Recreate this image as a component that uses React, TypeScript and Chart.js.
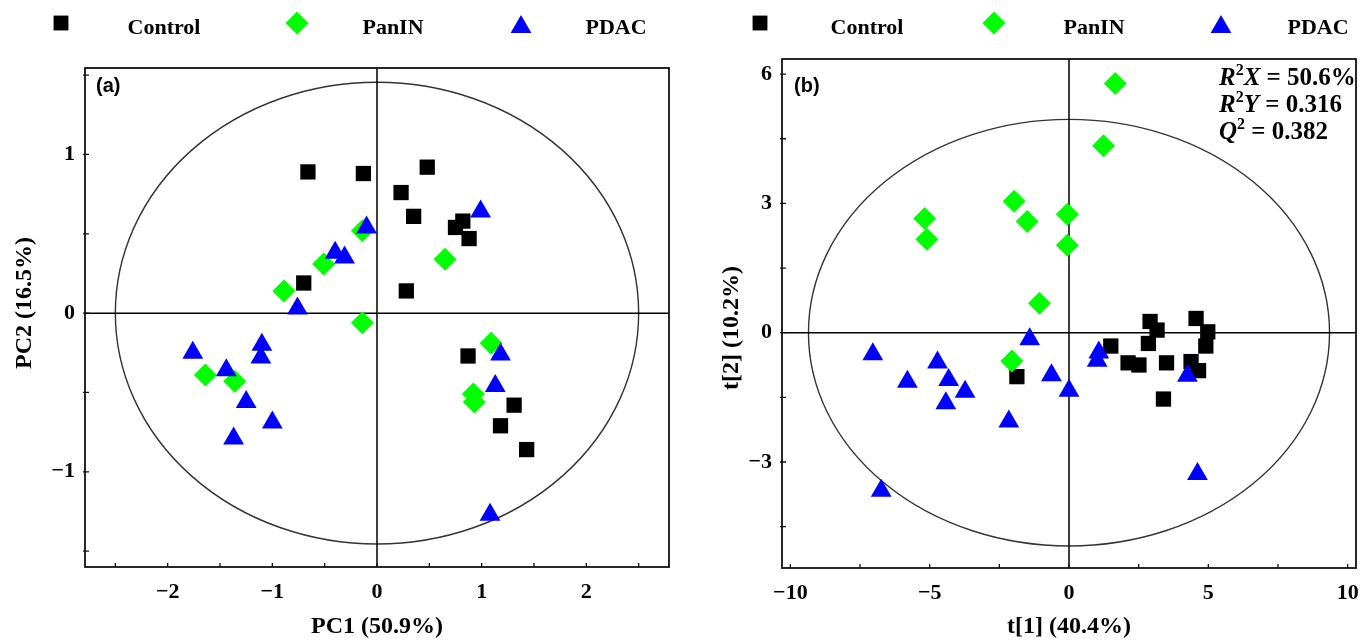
import React, { useEffect, useRef } from 'react';
import { Chart, registerables } from 'chart.js';

Chart.register(...registerables);

type Pt = [number, number];

// ---------- data ----------
const seriesNames = ['Control', 'PanIN', 'PDAC'];
const seriesColors = ['#000000', '#00FF00', '#0000FF'];
const seriesShapes = ['rect', 'rectRot', 'triangle'];
const seriesRadius = [10.8, 11.5, 12];

// (a) PCA scores: PC1 vs PC2
const pcaControl: Pt[] = [
  [-0.66, 0.89], [-0.13, 0.88], [0.23, 0.76], [0.48, 0.92], [0.35, 0.61],
  [0.75, 0.54], [0.82, 0.58], [0.88, 0.47], [-0.7, 0.19], [0.28, 0.14],
  [0.87, -0.27], [1.31, -0.58], [1.18, -0.71], [1.43, -0.86],
];
const pcaPanIN: Pt[] = [
  [-0.14, 0.52], [-0.51, 0.31], [-0.89, 0.14], [-0.14, -0.06], [0.65, 0.34],
  [1.09, -0.19], [0.92, -0.51], [0.93, -0.56], [-1.64, -0.39], [-1.36, -0.43],
];
const pcaPDAC: Pt[] = [
  [-0.1, 0.54], [-0.4, 0.38], [-0.31, 0.35], [-0.76, 0.03], [0.99, 0.64],
  [-1.76, -0.25], [-1.1, -0.2], [-1.11, -0.28], [-1.44, -0.36], [-1.25, -0.56],
  [-1.0, -0.69], [-1.37, -0.79], [1.18, -0.26], [1.13, -0.46], [1.08, -1.27],
];

// (b) PLS-DA scores: t[1] vs t[2]
const plsControl: Pt[] = [
  [-1.87, -1.02], [1.5, -0.31], [2.12, -0.7], [2.51, -0.75], [2.85, -0.25],
  [2.91, 0.26], [3.16, 0.06], [3.5, -0.7], [3.39, -1.54], [4.56, 0.33],
  [4.98, 0.02], [4.91, -0.31], [4.38, -0.67], [4.65, -0.88],
];
const plsPanIN: Pt[] = [
  [1.66, 5.78], [1.24, 4.34], [-1.97, 3.05], [-1.5, 2.58], [-5.18, 2.65],
  [-5.1, 2.17], [-0.06, 2.75], [-0.06, 2.03], [-1.06, 0.68], [-2.05, -0.66],
];
const plsPDAC: Pt[] = [
  [-1.41, -0.15], [-7.04, -0.5], [-5.8, -1.14], [-4.72, -0.69], [-4.32, -1.1],
  [-3.73, -1.37], [-4.42, -1.64], [-2.16, -2.06], [-0.63, -0.99], [0.0, -1.35],
  [1.07, -0.46], [1.01, -0.65], [4.25, -1.0], [4.61, -3.28], [-6.74, -3.67],
];

// tick labels
const pcaXLabels = [-2, -1, 0, 1, 2];
const pcaYLabels = [-1, 0, 1];
const plsXLabels = [-10, -5, 0, 5, 10];
const plsYLabels = [-3, 0, 3, 6];

// model statistics for (b)
const plsStatNames = [['R', '2', 'X'], ['R', '2', 'Y'], ['Q', '2', '']];
const plsStatValues = ['50.6%', '0.316', '0.382'];

// ---------- layout / style ----------
const W = 684;
const H = 641;
const SERIF = '"Liberation Serif", "Times New Roman", serif';
const SANS = '"Liberation Sans", Arial, sans-serif';

interface Panel {
  tag: string;
  xTitle: string;
  yTitle: string;
  series: Pt[][];
  xRange: [number, number];
  yRange: [number, number];
  xStep: number;
  yStep: number;
  xLabels: number[];
  yLabels: number[];
  ellipse: [number, number];
  area: { left: number; right: number; top: number; bottom: number };
  yTitlePos: [number, number];
  tagX: number;
  legendMarkX: number[];
  legendTextX: number[];
  stats: boolean;
}

const panels: Panel[] = [
  {
    tag: '(a)',
    xTitle: 'PC1 (50.9%)',
    yTitle: 'PC2 (16.5%)',
    series: [pcaControl, pcaPanIN, pcaPDAC],
    xRange: [-2.79, 2.79],
    yRange: [-1.6, 1.545],
    xStep: 0.5,
    yStep: 0.5,
    xLabels: pcaXLabels,
    yLabels: pcaYLabels,
    ellipse: [2.5, 1.455],
    area: { left: 85, right: 669, top: 68, bottom: 567 },
    yTitlePos: [25, 303],
    tagX: 96,
    legendMarkX: [61, 297, 521],
    legendTextX: [164, 393, 616],
    stats: false,
  },
  {
    tag: '(b)',
    xTitle: 't[1] (40.4%)',
    yTitle: 't[2] (10.2%)',
    series: [plsControl, plsPanIN, plsPDAC],
    xRange: [-10.3, 10.3],
    yRange: [-5.46, 6.35],
    xStep: 2.5,
    yStep: 1.5,
    xLabels: plsXLabels,
    yLabels: plsYLabels,
    ellipse: [9.35, 4.95],
    area: { left: 98, right: 680, top: 59, bottom: 568 },
    yTitlePos: [48, 328],
    tagX: 110,
    legendMarkX: [76, 310, 537],
    legendTextX: [183, 410, 634],
    stats: true,
  },
];

const fmt = (v: number) => (v < 0 ? '\u2212' + Math.abs(v) : String(v));
const isLabel = (v: number, list: number[]) => list.some((l) => Math.abs(l - v) < 1e-6);

function drawMarker(ctx: CanvasRenderingContext2D, shape: string, x: number, y: number, r: number) {
  ctx.beginPath();
  if (shape === 'rect') {
    const s = Math.SQRT1_2 * r;
    ctx.rect(x - s, y - s, 2 * s, 2 * s);
  } else if (shape === 'rectRot') {
    ctx.moveTo(x - r, y);
    ctx.lineTo(x, y - r);
    ctx.lineTo(x + r, y);
    ctx.lineTo(x, y + r);
    ctx.closePath();
  } else {
    ctx.moveTo(x, y - r);
    ctx.lineTo(x + r * 0.866, y + r / 2);
    ctx.lineTo(x - r * 0.866, y + r / 2);
    ctx.closePath();
  }
  ctx.fill();
}

function makeDecor(p: Panel) {
  return {
    id: 'decor',
    beforeDatasetsDraw(chart: any) {
      const { ctx, chartArea: a } = chart;
      const x = chart.scales.x;
      const y = chart.scales.y;
      const cx = x.getPixelForValue(0);
      const cy = y.getPixelForValue(0);
      const rx = Math.abs(x.getPixelForValue(p.ellipse[0]) - cx);
      const ry = Math.abs(y.getPixelForValue(p.ellipse[1]) - cy);
      ctx.save();
      ctx.strokeStyle = '#333';
      ctx.lineWidth = 1.4;
      ctx.beginPath();
      ctx.ellipse(cx, cy, rx, ry, 0, 0, Math.PI * 2);
      ctx.stroke();
      ctx.strokeStyle = '#000';
      ctx.lineWidth = 1.5;
      ctx.beginPath();
      ctx.moveTo(cx, a.top);
      ctx.lineTo(cx, a.bottom);
      ctx.moveTo(a.left, cy);
      ctx.lineTo(a.right, cy);
      ctx.stroke();
      ctx.restore();
    },
    afterDraw(chart: any) {
      const { ctx, chartArea: a } = chart;
      const x = chart.scales.x;
      const y = chart.scales.y;
      ctx.save();
      // frame
      ctx.strokeStyle = '#111';
      ctx.lineWidth = 1.8;
      ctx.strokeRect(a.left, a.top, a.right - a.left, a.bottom - a.top);
      // minor/major tick marks
      ctx.lineWidth = 1.3;
      ctx.beginPath();
      x.ticks.forEach((t: any) => {
        const px = x.getPixelForValue(t.value);
        ctx.moveTo(px, a.bottom);
        ctx.lineTo(px, a.bottom - 4);
      });
      y.ticks.forEach((t: any) => {
        const py = y.getPixelForValue(t.value);
        ctx.moveTo(a.left - 2, py);
        ctx.lineTo(a.left + 4, py);
      });
      ctx.stroke();
      // y title
      ctx.fillStyle = '#000';
      ctx.font = `bold 24px ${SERIF}`;
      ctx.textAlign = 'center';
      ctx.textBaseline = 'middle';
      ctx.translate(p.yTitlePos[0], p.yTitlePos[1]);
      ctx.rotate(-Math.PI / 2);
      ctx.fillText(p.yTitle, 0, 0);
      ctx.setTransform(1, 0, 0, 1, 0, 0);
      // legend
      seriesNames.forEach((name, i) => {
        ctx.fillStyle = seriesColors[i];
        const r = i === 0 ? 10.5 : i === 1 ? 11.5 : 12;
        drawMarker(ctx, seriesShapes[i], p.legendMarkX[i], i === 2 ? 27 : 23, r);
        ctx.fillStyle = '#000';
        ctx.font = `bold 22px ${SERIF}`;
        ctx.textAlign = 'center';
        ctx.textBaseline = 'middle';
        ctx.fillText(name, p.legendTextX[i], 28);
      });
      // panel tag
      ctx.font = `bold 20px ${SANS}`;
      ctx.textAlign = 'left';
      ctx.fillText(p.tag, p.tagX, 86);
      // statistics
      if (p.stats) {
        const rows = [79, 106, 133];
        plsStatNames.forEach((parts, i) => {
          let cxp = 535;
          const yy = rows[i];
          ctx.textBaseline = 'middle';
          ctx.font = `italic bold 25px ${SERIF}`;
          ctx.fillText(parts[0], cxp, yy);
          cxp += ctx.measureText(parts[0]).width;
          ctx.font = `bold 16px ${SERIF}`;
          ctx.fillText(parts[1], cxp, yy - 8);
          cxp += ctx.measureText(parts[1]).width;
          ctx.font = `italic bold 25px ${SERIF}`;
          if (parts[2]) {
            ctx.fillText(parts[2], cxp, yy);
            cxp += ctx.measureText(parts[2]).width;
          }
          ctx.font = `bold 25px ${SERIF}`;
          ctx.fillText(' = ' + plsStatValues[i], cxp, yy);
        });
      }
      ctx.restore();
    },
  };
}

function makeConfig(p: Panel): any {
  const tickFont = { family: SERIF, size: 22, weight: 'bold' as const };
  return {
    type: 'scatter',
    data: {
      datasets: p.series.map((pts, i) => ({
        label: seriesNames[i],
        data: pts.map(([vx, vy]) => ({ x: vx, y: vy })),
        pointStyle: seriesShapes[i],
        pointRadius: seriesRadius[i],
        pointHoverRadius: seriesRadius[i],
        backgroundColor: seriesColors[i],
        borderColor: seriesColors[i],
        borderWidth: 0,
        order: 3 - i,
      })),
    },
    options: {
      responsive: false,
      animation: false,
      devicePixelRatio: 1,
      layout: { padding: { left: 0, top: p.area.top, right: W - p.area.right, bottom: 0 } },
      plugins: { legend: { display: false }, tooltip: { enabled: false } },
      events: [],
      scales: {
        x: {
          type: 'linear',
          position: 'bottom',
          min: p.xRange[0],
          max: p.xRange[1],
          grid: { display: false, drawTicks: false },
          border: { display: false },
          ticks: {
            stepSize: p.xStep,
            includeBounds: false,
            autoSkip: false,
            maxRotation: 0,
            padding: 12,
            color: '#000',
            font: tickFont,
            callback: (v: number) => (isLabel(v, p.xLabels) ? fmt(v) : ''),
          },
          title: {
            display: true,
            text: p.xTitle,
            color: '#000',
            font: { family: SERIF, size: 24, weight: 'bold' },
            padding: { top: 0, bottom: 0 },
          },
          afterFit: (s: any) => {
            s.height = H - p.area.bottom;
            s.paddingLeft = 0;
            s.paddingRight = 0;
          },
        },
        y: {
          type: 'linear',
          position: 'left',
          min: p.yRange[0],
          max: p.yRange[1],
          grid: { display: false, drawTicks: false },
          border: { display: false },
          ticks: {
            stepSize: p.yStep,
            includeBounds: false,
            autoSkip: false,
            padding: 10,
            color: '#000',
            font: tickFont,
            callback: (v: number) => (isLabel(v, p.yLabels) ? fmt(v) : ''),
          },
          title: { display: false },
          afterFit: (s: any) => {
            s.width = p.area.left;
            s.paddingTop = 0;
            s.paddingBottom = 0;
          },
        },
      },
    },
    plugins: [makeDecor(p)],
  };
}

function PanelChart({ panel, left }: { panel: Panel; left: number }) {
  const ref = useRef<HTMLCanvasElement | null>(null);
  useEffect(() => {
    if (!ref.current) return;
    const chart = new Chart(ref.current, makeConfig(panel));
    return () => chart.destroy();
  }, [panel]);
  return (
    <canvas
      ref={ref}
      width={W}
      height={H}
      style={{ position: 'absolute', left, top: 0, width: W, height: H }}
    />
  );
}

export default function App() {
  return (
    <div
      style={{
        position: 'fixed',
        left: 0,
        top: 0,
        width: 1368,
        height: 641,
        background: '#fff',
        overflow: 'hidden',
      }}
    >
      <PanelChart panel={panels[0]} left={0} />
      <PanelChart panel={panels[1]} left={684} />
    </div>
  );
}
